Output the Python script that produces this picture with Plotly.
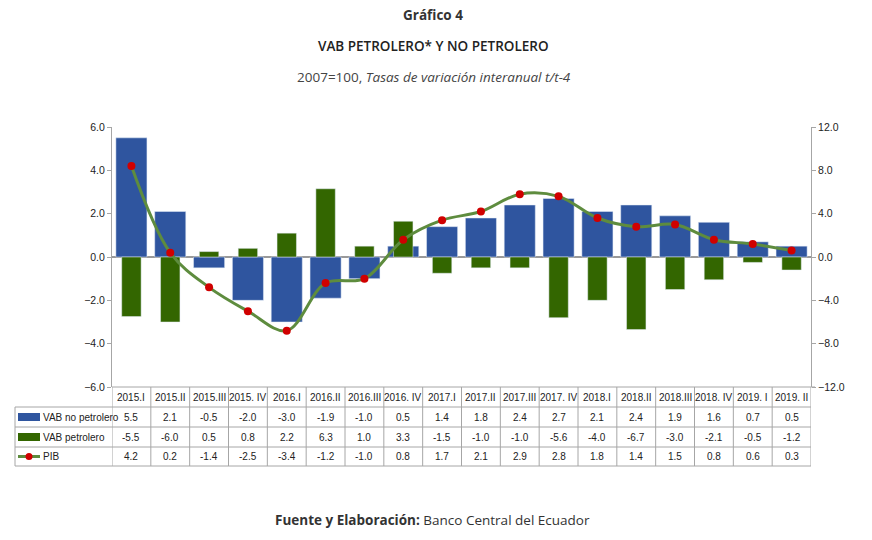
import plotly.graph_objects as go

categories = ["2015.I", "2015.II", "2015.III", "2015. IV", "2016.I", "2016.II", "2016.III", "2016. IV",
              "2017.I", "2017.II", "2017.III", "2017. IV", "2018.I", "2018.II", "2018.III", "2018. IV",
              "2019. I", "2019. II"]
vab_no_petrolero = [5.5, 2.1, -0.5, -2.0, -3.0, -1.9, -1.0, 0.5, 1.4, 1.8, 2.4, 2.7, 2.1, 2.4, 1.9, 1.6, 0.7, 0.5]
vab_petrolero = [-5.5, -6.0, 0.5, 0.8, 2.2, 6.3, 1.0, 3.3, -1.5, -1.0, -1.0, -5.6, -4.0, -6.7, -3.0, -2.1, -0.5, -1.2]
pib = [4.2, 0.2, -1.4, -2.5, -3.4, -1.2, -1.0, 0.8, 1.7, 2.1, 2.9, 2.8, 1.8, 1.4, 1.5, 0.8, 0.6, 0.3]
series_names = ["VAB no petrolero", "VAB petrolero", "PIB"]

BLUE = "#2F559F"
GREEN = "#336600"
LINE = "#5E8C3E"
RED = "#D00000"
GRID = "#A6A6A6"
NARROW = "Liberation Sans, Arial, sans-serif"
ROUND = "Open Sans, Noto Sans, sans-serif"

W, H = 872, 540
L, R, T, B = 112, 61, 127, 153
PW, PH = W - L - R, H - T - B


def px(xp):
    return (xp - L) / PW


def py(yp):
    return (H - B - yp) / PH


fig = go.Figure()
fig.add_trace(go.Bar(x=categories, y=vab_no_petrolero, name=series_names[0], marker_color=BLUE,
                     width=0.8, yaxis="y", showlegend=False))
fig.add_trace(go.Bar(x=categories, y=vab_petrolero, name=series_names[1], marker_color=GREEN,
                     width=0.5, yaxis="y2", showlegend=False))
fig.add_trace(go.Scatter(x=categories, y=pib, name=series_names[2], mode="lines+markers",
                         line=dict(color=LINE, width=3, shape="spline", smoothing=1.0),
                         marker=dict(color=RED, size=8, line=dict(color=RED, width=0)),
                         yaxis="y3", showlegend=False))

shapes = []
annotations = []
TF = dict(family=NARROW, size=10, color="#222")

# Table lines
y_rows = [387, 407, 427, 447, 466]
for k in range(len(categories) + 1):
    shapes.append(dict(type="line", xref="x", yref="paper", x0=k - 0.5, x1=k - 0.5,
                       y0=py(387), y1=py(466), line=dict(color=GRID, width=1)))
for yr in y_rows[1:]:
    shapes.append(dict(type="line", xref="paper", yref="paper", x0=px(15), x1=px(811),
                       y0=py(yr), y1=py(yr), line=dict(color=GRID, width=1)))
shapes.append(dict(type="line", xref="paper", yref="paper", x0=px(15), x1=px(15),
                   y0=py(407), y1=py(466), line=dict(color=GRID, width=1)))
shapes.append(dict(type="line", xref="paper", yref="paper", x0=px(112), x1=px(815),
                   y0=py(387), y1=py(387), line=dict(color=GRID, width=1)))

# header and values
row_centers = [397, 417, 437, 456.5]
for i, c in enumerate(categories):
    annotations.append(dict(x=i, y=py(row_centers[0]), xref="x", yref="paper", text=c, showarrow=False,
                            xanchor="center", yanchor="middle", font=TF))
for r, vals in enumerate([vab_no_petrolero, vab_petrolero, pib]):
    for i, v in enumerate(vals):
        annotations.append(dict(x=i, y=py(row_centers[r + 1]), xref="x", yref="paper",
                                text=f"{v:.1f}", showarrow=False, xanchor="center", yanchor="middle",
                                font=TF))
    annotations.append(dict(x=px(41), y=py(row_centers[r + 1]), xref="paper", yref="paper",
                            text=series_names[r], showarrow=False, xanchor="left", yanchor="middle",
                            font=TF))

# legend symbols
for r, col in enumerate([BLUE, GREEN]):
    yc = row_centers[r + 1]
    shapes.append(dict(type="rect", xref="paper", yref="paper", x0=px(18), x1=px(40),
                       y0=py(yc - 4), y1=py(yc + 4), fillcolor=col, line=dict(width=0)))
yc = row_centers[3]
shapes.append(dict(type="line", xref="paper", yref="paper", x0=px(18), x1=px(40),
                   y0=py(yc), y1=py(yc), line=dict(color=LINE, width=3)))
shapes.append(dict(type="circle", xref="paper", yref="paper", x0=px(25.5), x1=px(32.5),
                   y0=py(yc - 3.5), y1=py(yc + 3.5), fillcolor=RED, line=dict(width=0)))

# titles (positions in figure pixels, converted to plot-paper fractions)
titles = [
    (433, 15, "<b>Gráfico 4</b>", dict(family=ROUND, size=13.5, color="#333")),
    (433, 46, "VAB PETROLERO* Y NO PETROLERO", dict(family=ROUND, size=13.5, color="#222", weight=600)),
    (434, 77, "2007=100, <i>Tasas de variación interanual t/t-4</i>", dict(family=ROUND, size=13.5, color="#444")),
    (432, 520, "<b>Fuente y Elaboración:</b> Banco Central del Ecuador", dict(family=ROUND, size=13.5, color="#333")),
]
for xp, yp, txt, f in titles:
    annotations.append(dict(x=px(xp), y=py(yp), xref="paper", yref="paper", text=txt, showarrow=False,
                            xanchor="center", yanchor="middle", font=f))

axis_font = dict(family=NARROW, size=10.5, color="#222")
fig.update_layout(
    width=W, height=H,
    margin=dict(l=L, r=R, t=T, b=B),
    paper_bgcolor="white", plot_bgcolor="white",
    barmode="overlay",
    shapes=shapes, annotations=annotations,
    xaxis=dict(type="category", range=[-0.5, len(categories) - 0.5], showticklabels=False,
               showgrid=False, zeroline=False, showline=False, ticks=""),
    yaxis=dict(range=[-6, 6], dtick=2, tickformat=".1f", showgrid=False, zeroline=True,
               zerolinecolor="#999", zerolinewidth=2, showline=True, linecolor=GRID, linewidth=1,
               ticks="outside", ticklen=4, tickcolor=GRID, tickfont=axis_font),
    yaxis2=dict(range=[-12, 12], dtick=4, tickformat=".1f", overlaying="y", side="right",
                showgrid=False, zeroline=False, showline=True, linecolor=GRID, linewidth=1,
                ticks="outside", ticklen=4, tickcolor=GRID, tickfont=axis_font),
    yaxis3=dict(range=[-6, 6], overlaying="y", visible=False, showgrid=False, zeroline=False),
)

fig.write_html("out.html", config={"displayModeBar": False},
               post_script="document.body.style.margin='0';")
